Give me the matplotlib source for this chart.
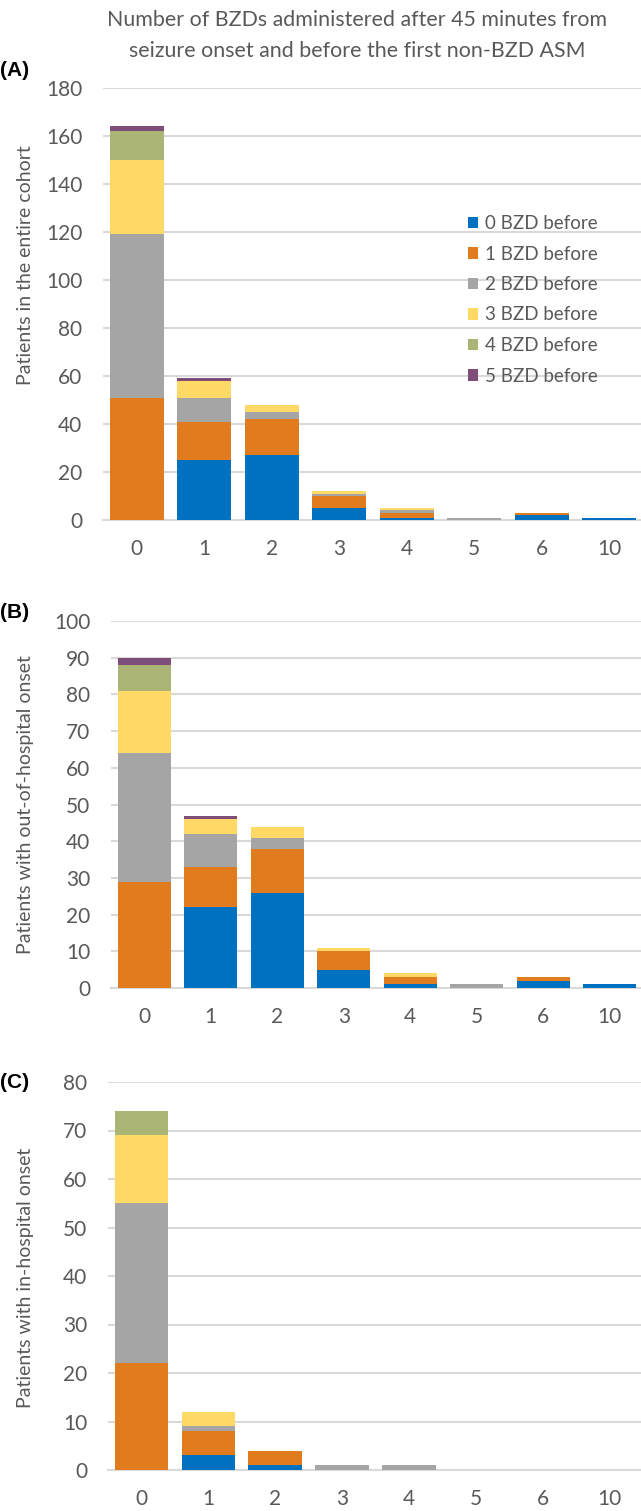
import matplotlib
matplotlib.use('Agg')
import matplotlib.pyplot as plt
import numpy as np

plt.rcParams['font.family'] = ['Lato', 'DejaVu Sans']

# x categories: number of BZDs given after 45 min
categories = ['0', '1', '2', '3', '4', '5', '6', '10']
series_labels = ['0 BZD before', '1 BZD before', '2 BZD before',
                 '3 BZD before', '4 BZD before', '5 BZD before']

# (A) entire cohort
a_bzd0 = [0, 25, 27, 5, 1, 0, 2, 1]
a_bzd1 = [51, 16, 15, 5, 2, 0, 1, 0]
a_bzd2 = [68, 10, 3, 1, 1, 1, 0, 0]
a_bzd3 = [31, 7, 3, 1, 1, 0, 0, 0]
a_bzd4 = [12, 0, 0, 0, 0, 0, 0, 0]
a_bzd5 = [2, 1, 0, 0, 0, 0, 0, 0]

# (B) out-of-hospital onset
b_bzd0 = [0, 22, 26, 5, 1, 0, 2, 1]
b_bzd1 = [29, 11, 12, 5, 2, 0, 1, 0]
b_bzd2 = [35, 9, 3, 0, 0, 1, 0, 0]
b_bzd3 = [17, 4, 3, 1, 1, 0, 0, 0]
b_bzd4 = [7, 0, 0, 0, 0, 0, 0, 0]
b_bzd5 = [2, 1, 0, 0, 0, 0, 0, 0]

# (C) in-hospital onset
c_bzd0 = [0, 3, 1, 0, 0, 0, 0, 0]
c_bzd1 = [22, 5, 3, 0, 0, 0, 0, 0]
c_bzd2 = [33, 1, 0, 1, 1, 0, 0, 0]
c_bzd3 = [14, 3, 0, 0, 0, 0, 0, 0]
c_bzd4 = [5, 0, 0, 0, 0, 0, 0, 0]
c_bzd5 = [0, 0, 0, 0, 0, 0, 0, 0]

colors = ['#0070C0', '#E07B1E', '#A5A5A5', '#FFD966', '#A9B475', '#7E4E78']
txtcol = '#595959'
gridcol = '#d9d9d9'

W, H = 641, 1511
fig = plt.figure(figsize=(W / 100, H / 100), dpi=100)


def px_axes(left, top, right, bottom):
    return fig.add_axes([left / W, 1 - bottom / H, (right - left) / W, (bottom - top) / H])


def draw_panel(ax, series, ymax, ystep):
    x = np.arange(len(categories))
    bottom = np.zeros(len(categories))
    for vals, lab, col in zip(series, series_labels, colors):
        ax.bar(x, vals, 0.8, bottom=bottom, color=col, label=lab, zorder=3)
        bottom += np.array(vals)
    ax.set_xlim(-0.5, len(categories) - 0.5)
    ax.set_ylim(0, ymax)
    ax.set_yticks(np.arange(0, ymax + 1, ystep))
    ax.set_xticks(x, categories)
    ax.grid(axis='y', color=gridcol, lw=1.5, zorder=0)
    for s in ['top', 'right', 'left']:
        ax.spines[s].set_visible(False)
    ax.spines['bottom'].set_color(gridcol)
    ax.spines['bottom'].set_linewidth(1.5)
    ax.tick_params(axis='both', length=0, labelsize=15, colors=txtcol)
    ax.tick_params(axis='y', pad=15)
    ax.tick_params(axis='x', pad=14)


ax_a = px_axes(103, 88, 643, 520)
draw_panel(ax_a, [a_bzd0, a_bzd1, a_bzd2, a_bzd3, a_bzd4, a_bzd5], 180, 20)
ax_b = px_axes(111, 621, 643, 988)
draw_panel(ax_b, [b_bzd0, b_bzd1, b_bzd2, b_bzd3, b_bzd4, b_bzd5], 100, 10)
ax_c = px_axes(108, 1082, 643, 1470)
draw_panel(ax_c, [c_bzd0, c_bzd1, c_bzd2, c_bzd3, c_bzd4, c_bzd5], 80, 10)

# legend inside panel A
ax_a.legend(loc='upper left', bbox_to_anchor=(468 / W, 1 - 215 / H),
            bbox_transform=fig.transFigure, frameon=False, fontsize=13.5,
            handlelength=0.55, handleheight=0.55, handletextpad=0.35,
            labelspacing=0.72, borderpad=0, borderaxespad=0, labelcolor=txtcol)

# title
fig.text(357 / W, 1 - 20 / H, 'Number of BZDs administered after 45 minutes from',
         ha='center', va='center', fontsize=15.4, color=txtcol)
fig.text(357 / W, 1 - 51 / H, 'seizure onset and before the first non-BZD ASM',
         ha='center', va='center', fontsize=15.4, color=txtcol)

# y labels
fig.text(26 / W, 1 - 265 / H, 'Patients in the entire cohort', rotation=90,
         ha='center', va='center', fontsize=14, color=txtcol)
fig.text(26 / W, 1 - 805 / H, 'Patients with out-of-hospital onset', rotation=90,
         ha='center', va='center', fontsize=14, color=txtcol)
fig.text(26 / W, 1 - 1278 / H, 'Patients with in-hospital onset', rotation=90,
         ha='center', va='center', fontsize=14, color=txtcol)

# panel letters
for lab, yy in [('(A)', 70), ('(B)', 612), ('(C)', 1083)]:
    fig.text(0, 1 - yy / H, lab, ha='left', va='center', fontsize=15,
             fontweight='bold', family='Liberation Sans', color='black')

fig.savefig('out.png', dpi=100)
